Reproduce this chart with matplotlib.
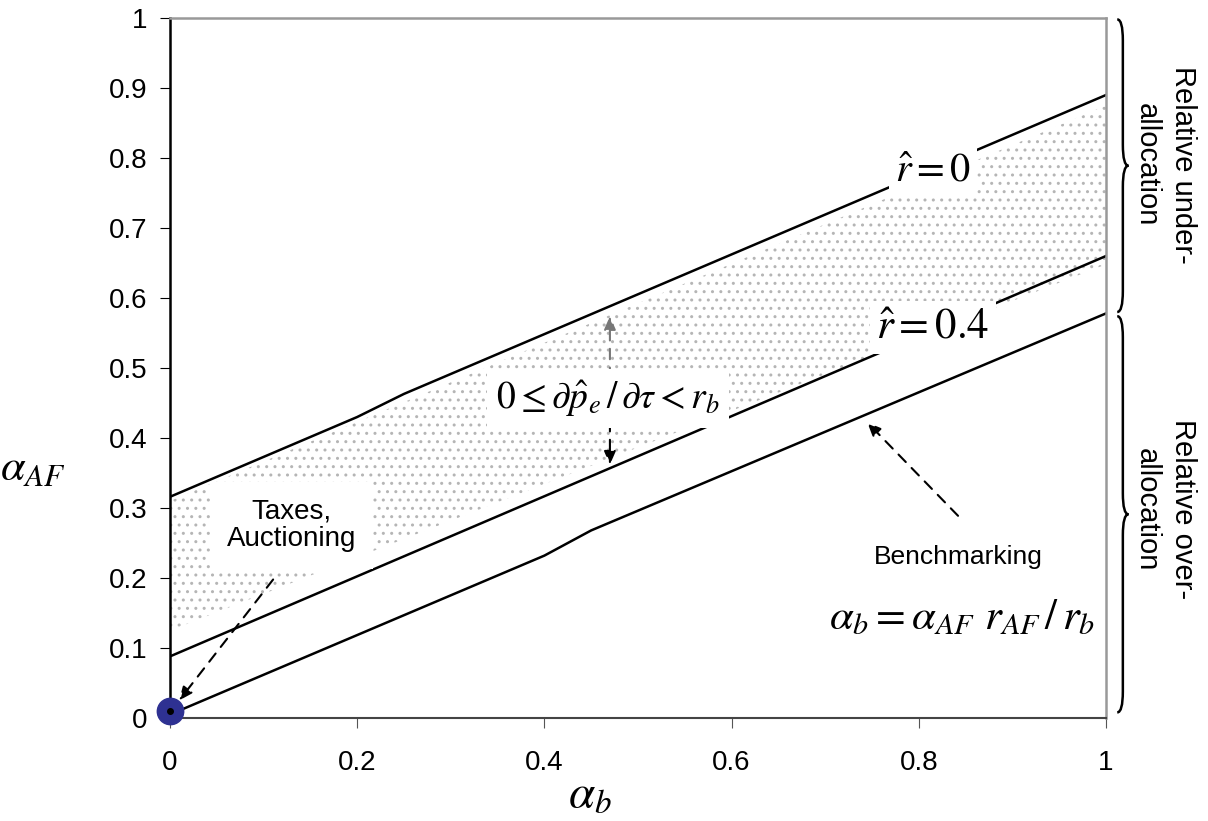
import matplotlib
matplotlib.use('Agg')
import matplotlib.pyplot as plt
from matplotlib.path import Path
from matplotlib.patches import PathPatch, Polygon

plt.rcParams['font.family'] = ['Liberation Sans', 'DejaVu Sans']
plt.rcParams['mathtext.fontset'] = 'stix'
plt.rcParams['hatch.linewidth'] = 1.0

# boundary lines
x_upper = [0, 0.2, 0.25, 1]
y_upper = [0.316, 0.43, 0.463, 0.89]
x_mid = [0, 1]
y_mid = [0.088, 0.66]
x_low = [0, 0.4, 0.45, 1]
y_low = [0.005, 0.232, 0.268, 0.578]

# dotted band
shade_x = [0, 0, 1, 1]
shade_y = [0.125, 0.31, 0.875, 0.648]

# taxes / auctioning point
point_x = [0.0]
point_y = [0.01]

ticks = [0, 0.2, 0.4, 0.6, 0.8, 1]
yticks = [0, 0.1, 0.2, 0.3, 0.4, 0.5, 0.6, 0.7, 0.8, 0.9, 1]

DASH = (0, (5, 4))
HEAD = '-|>,head_length=0.8,head_width=0.35'


def brace(ax, y0, y1, xl=1.012, xb=1.018, xt=1.024, d=0.03):
    ym = (y0 + y1) / 2
    verts = [(xl, y1), (xb, y1), (xb, y1 - d),
             (xb, ym + d),
             (xb, ym), (xt, ym),
             (xb, ym), (xb, ym - d),
             (xb, y0 + d),
             (xb, y0), (xl, y0)]
    codes = [Path.MOVETO, Path.CURVE3, Path.CURVE3,
             Path.LINETO,
             Path.CURVE3, Path.CURVE3,
             Path.CURVE3, Path.CURVE3,
             Path.LINETO,
             Path.CURVE3, Path.CURVE3]
    p = PathPatch(Path(verts, codes), facecolor='none', edgecolor='black',
                  lw=1.8, clip_on=False)
    ax.add_patch(p)


fig = plt.figure(figsize=(12.08, 8.21), dpi=100)
ax = fig.add_axes([170 / 1208, 1 - 718 / 821, 936 / 1208, 700 / 821])

band = Polygon(list(zip(shade_x, shade_y)), closed=True, facecolor='none',
               edgecolor='#b5b5b5', lw=0, hatch='..', zorder=1)
ax.add_patch(band)

ax.plot(x_upper, y_upper, color='black', lw=1.8, zorder=2)
ax.plot(x_mid, y_mid, color='black', lw=1.8, zorder=2)
ax.plot(x_low, y_low, color='black', lw=1.8, zorder=2)

ax.set_xlim(0, 1)
ax.set_ylim(0, 1)
ax.set_xticks(ticks)
ax.set_xticklabels(['0', '0.2', '0.4', '0.6', '0.8', '1'])
ax.set_yticks(yticks)
ax.set_yticklabels(['0', '0.1', '0.2', '0.3', '0.4', '0.5', '0.6', '0.7', '0.8', '0.9', '1'])
ax.tick_params(axis='both', labelsize=20, length=7, direction='out')
ax.tick_params(axis='x', pad=16, color='#555555')
ax.tick_params(axis='y', pad=9)
for s in ['top', 'right']:
    ax.spines[s].set_color('#999999')
    ax.spines[s].set_linewidth(1.8)
ax.spines['left'].set_linewidth(1.8)
ax.spines['bottom'].set_color('#444444')
ax.spines['bottom'].set_linewidth(1.5)

# axis labels
ax.text(0.449, -0.11, r'$\alpha_b$', fontsize=34, ha='center', va='center',
        clip_on=False)
ax.text(-0.147, 0.357, r'$\alpha_{AF}$', fontsize=32, ha='center', va='center',
        clip_on=False)

# point
ax.plot(point_x, point_y, 'o', color='#2E3192', markersize=19, clip_on=False, zorder=6)
ax.plot(point_x, point_y, 'o', color='black', markersize=4, clip_on=False, zorder=7)

# taxes label + arrow
ax.annotate('', xy=(0.008, 0.022), xytext=(0.112, 0.201),
            arrowprops=dict(arrowstyle=HEAD, ls=DASH, color='black', lw=1.5), zorder=5)
ax.text(0.13, 0.275, 'Taxes,\nAuctioning', fontsize=20, ha='center', va='center',
        linespacing=1.1, zorder=4,
        bbox=dict(boxstyle='square,pad=0.6', facecolor='white', edgecolor='none'))

# derivative band label + arrows
ax.annotate('', xy=(0.47, 0.578), xytext=(0.47, 0.455),
            arrowprops=dict(arrowstyle=HEAD, ls=DASH, color='#777777', lw=1.5), zorder=3)
ax.annotate('', xy=(0.47, 0.358), xytext=(0.47, 0.455),
            arrowprops=dict(arrowstyle=HEAD, ls=DASH, color='black', lw=1.5), zorder=3)
ax.text(0.468, 0.456, r'$0 \leq \partial\hat{p}_e\,/\,\partial\tau < r_b$', fontsize=27,
        ha='center', va='center', zorder=4,
        bbox=dict(boxstyle='square,pad=0.25', facecolor='white', edgecolor='none'))

# line labels
ax.text(0.815, 0.782, r'$\hat{r} = 0$', fontsize=29, ha='center', va='center', zorder=4,
        bbox=dict(boxstyle='square,pad=0.15', facecolor='white', edgecolor='none'))
ax.text(0.815, 0.558, r'$\hat{r} = 0.4$', fontsize=31, ha='center', va='center', zorder=4,
        bbox=dict(boxstyle='square,pad=0.15', facecolor='white', edgecolor='none'))

# benchmarking
ax.annotate('', xy=(0.743, 0.425), xytext=(0.844, 0.286),
            arrowprops=dict(arrowstyle=HEAD, ls=DASH, color='black', lw=1.5), zorder=5)
ax.text(0.842, 0.23, 'Benchmarking', fontsize=19, ha='center', va='center')
ax.text(0.846, 0.142, r'$\alpha_b = \alpha_{AF}\ r_{AF}\,/\,r_b$', fontsize=31,
        ha='center', va='center')

# braces and side labels
brace(ax, 0.58, 0.998)
brace(ax, 0.008, 0.574)
ax.text(1.063, 0.79, 'Relative under-\nallocation', fontsize=21, rotation=-90,
        ha='center', va='center', linespacing=1.35, clip_on=False)
ax.text(1.063, 0.298, 'Relative over-\nallocation', fontsize=21, rotation=-90,
        ha='center', va='center', linespacing=1.35, clip_on=False)

fig.savefig('out.png', dpi=100)
